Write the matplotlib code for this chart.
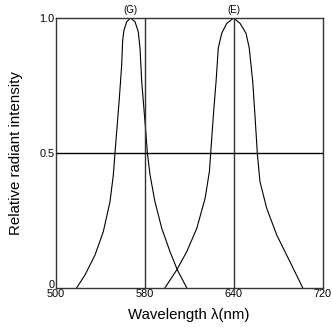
import numpy as np
import matplotlib
matplotlib.use("Agg")
import matplotlib.pyplot as plt

plt.rcParams['font.family'] = ['Liberation Sans', 'DejaVu Sans']

# tick wavelengths (drawn evenly spaced on the original chart)
x_ticks = [500, 580, 640, 720]
y_ticks = [0, 0.5, 1.0]
y_tick_labels = ['0', '0.5', '1.0']

# (G) spectrum
g_wl = [518.9, 526.3, 535.3, 542.8, 548.8, 551.8, 553.3, 554.8, 557.2,
        559.3, 560.2, 561.4, 563.8, 567.4, 571.3, 574.2, 575.8, 577.3,
        580.2, 581.8, 583.6, 586.9, 591.5, 597.1, 602.0, 608.3]
g_int = [0.0, 0.047, 0.121, 0.208, 0.319, 0.418, 0.5, 0.578, 0.702,
         0.826, 0.918, 0.955, 0.986, 1.0, 0.986, 0.949, 0.888, 0.764,
         0.615, 0.5, 0.418, 0.319, 0.220, 0.133, 0.066, 0.0]

# (E) spectrum
e_wl = [593.7, 601.6, 608.3, 615.1, 620.7, 623.6, 624.5, 626.3, 628.1,
        629.6, 631.9, 635.3, 640.0, 645.7, 651.1, 654.0, 657.1, 659.1,
        661.2, 663.6, 669.7, 678.7, 690.6, 702.0]
e_int = [0.0, 0.066, 0.133, 0.220, 0.331, 0.430, 0.5, 0.640, 0.764,
         0.888, 0.943, 0.980, 1.0, 0.980, 0.943, 0.888, 0.764, 0.640,
         0.5, 0.393, 0.294, 0.195, 0.096, 0.0]

tick_pos = np.arange(len(x_ticks))


def fwd(w):
    return np.interp(w, x_ticks, tick_pos)


def inv(p):
    return np.interp(p, tick_pos, x_ticks)


fig = plt.figure(figsize=(3.32, 3.27), dpi=100)
ax = fig.add_axes([0.1678, 0.1202, 0.8042, 0.8248])
ax.set_xscale('function', functions=(fwd, inv))

ax.plot(g_wl, g_int, color='black', lw=0.8)
ax.plot(e_wl, e_int, color='black', lw=0.8)

# grid lines
for w in [580, 640]:
    ax.axvline(w, color='#333333', lw=1.0)
ax.axhline(0.5, color='black', lw=1.0)

ax.set_xlim(500, 720)
ax.set_ylim(0, 1.0)
ax.set_xticks(x_ticks)
ax.set_xticklabels([str(t) for t in x_ticks])
ax.set_yticks(y_ticks)
ax.set_yticklabels(y_tick_labels)
ax.tick_params(axis='both', length=0, labelsize=7.8, pad=1)
ax.get_yticklabels()[0].set_verticalalignment('baseline')

for s in ax.spines.values():
    s.set_color('#333333')
    s.set_linewidth(1.0)

ax.set_xlabel('Wavelength λ(nm)', fontsize=10.8, labelpad=6.5)
ax.set_ylabel('Relative radiant intensity', fontsize=10.8, labelpad=11.5)

ax.text(567.4, 1.01, '(G)', ha='center', va='bottom', fontsize=7)
ax.text(640, 1.01, '(E)', ha='center', va='bottom', fontsize=7)

fig.savefig('out.png', dpi=100)
